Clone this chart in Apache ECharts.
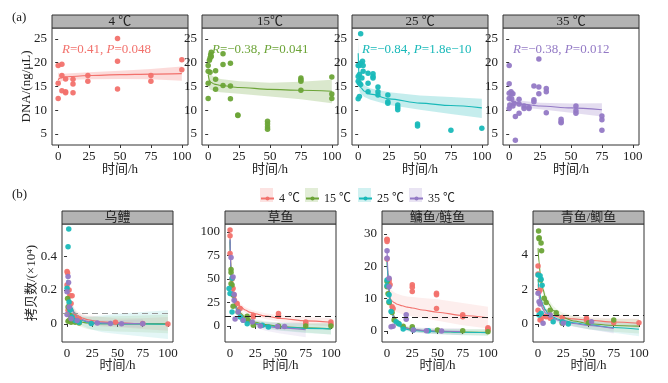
<!DOCTYPE html>
<html><head><meta charset="utf-8">
<script src="https://cdn.jsdelivr.net/npm/echarts@6/dist/echarts.min.js"></script>
<style>html,body{margin:0;padding:0;background:#fff}#c{width:668px;height:383px}</style>
</head><body><div id="c"></div>
<script>
// ---------- shared ----------
const temps = ['4 ℃', '15 ℃', '25 ℃', '35 ℃'];
const stripA = ['4 ℃', '15℃', '25 ℃', '35 ℃'];
const stripB = ['乌鳢', '草鱼', '鳙鱼/鲢鱼', '青鱼/鲫鱼'];
const colors = ['#F2716C', '#6CA437', '#19B9B9', '#9379C5'];
const xTicks = [0, 25, 50, 75, 100];
const aYTicks = [5, 10, 15, 20, 25];
const bYTicks = [[0, 0.2, 0.4], [0, 25, 50, 75, 100], [0, 10, 20, 30], [0, 2, 4]];
const aLabels = ['{i|R}=0.41, {i|P}=0.048', '{i|R}=−0.38, {i|P}=0.041', '{i|R}=−0.84, {i|P}=1.8e−10', '{i|R}=−0.38, {i|P}=0.012'];
const bThresh = [0.06, 10, 4.2, 0.53];

// ---------- panel (a): DNA ----------
const a4Pts = [[0,19.4],[3,19.7],[0,15.7],[0,12.5],[3,17.3],[3,14.1],[6,16.6],[6,13.9],[6,13.7],[12,16.5],[12,15.5],[12,13.7],[24,17.3],[24,16.1],[48,25.1],[48,20.3],[48,14.5],[75,17.3],[75,16.1],[100,20.6],[100,18.5]];
const a15Pts = [[0,19.4],[0,18.2],[0,15.7],[0,12.5],[1,20.5],[1.5,21],[2,21.7],[2.5,22.2],[2.5,21.3],[1.5,18],[6,18.3],[6,16.5],[6,14.4],[12,21.9],[12,19.6],[12,15.2],[18,19.9],[18,15.1],[18,12.4],[24,9.0],[24,8.9],[48,7.7],[48,7.1],[48,6.5],[48,6.0],[75,16.8],[75,16.4],[75,16.1],[75,14.2],[100,17.0],[100,13.4],[100,12.5]];
const a25Pts = [[2,26.1],[0,19.4],[1,19.4],[2,19.9],[3.5,20.3],[4,19.4],[4,18.2],[0,17.1],[0,16.1],[1,15.7],[2,15.4],[0,12.4],[1,12.9],[1,17.5],[3,16.8],[8,17.8],[8,15.7],[8,13.9],[12,17.7],[12,17.1],[12,16.8],[16,14.9],[16,13.9],[16,13.2],[24,13.2],[24,11.8],[24,11.5],[32,11.1],[32,10.6],[32,10.1],[48,7.1],[48,6.7],[75,5.8],[100,6.2]];
const a35Pts = [[0,19.4],[0,15.6],[0,13.6],[0,12.5],[0,10.4],[0.5,11.1],[1.5,13.9],[2,13.5],[3,13.5],[2,12.4],[3,10.9],[4,11.5],[5,8.7],[5,3.7],[8,11.3],[8,9.4],[8,12.3],[12,10.9],[12,10.4],[16,10.6],[16,10.4],[20,15.1],[20,12.2],[20,11.8],[24,20.8],[24,14.9],[24,13.5],[30,14.6],[30,13.9],[30,9.5],[42,8.1],[42,7.6],[42,7.4],[54,10.9],[54,9.9],[54,9.4],[75,8.8],[75,8.0],[75,5.8]];
const aFitX = [0, 1, 2, 5, 10, 25, 50, 75, 100];
const aFitX35 = [0, 1, 2, 5, 10, 25, 50, 75];
const a4Fit = [16.4,16.7,16.8,17.0,17.1,17.3,17.5,17.6,17.7];
const a4Lo  = [15.0,15.8,16.0,16.3,16.4,16.5,16.6,16.5,16.2];
const a4Hi  = [18.0,17.7,17.7,17.7,17.8,18.0,18.3,18.7,19.2];
const a15Fit = [17.5,16.3,15.9,15.5,15.2,14.8,14.4,14.2,14.0];
const a15Lo  = [15.5,14.5,14.3,14.0,13.8,13.5,12.9,12.3,11.5];
const a15Hi  = [19.5,18.0,17.5,17.0,16.6,16.1,15.8,16.0,16.4];
const a25Fit = [22.0,15.5,14.8,14.0,13.4,12.4,11.5,11.0,10.5];
const a25Lo  = [19.0,14.0,13.5,12.8,12.2,11.1,10.1,9.2,8.4];
const a25Hi  = [25.0,17.0,16.2,15.3,14.6,13.8,13.1,12.8,12.4];
const a35Fit = [13.0,12.2,11.9,11.6,11.3,10.9,10.5,10.1];
const a35Lo  = [11.5,11.3,11.1,10.9,10.6,10.2,9.5,8.7];
const a35Hi  = [14.5,13.1,12.7,12.3,12.0,11.6,11.4,11.5];

// ---------- panel (b): copies ----------
const bFitX = [0, 1, 2, 3, 5, 7, 10, 15, 20, 25, 35, 50, 75, 100];
const bFitX75 = [0, 1, 2, 3, 5, 7, 10, 15, 20, 25, 35, 50, 75];
// 乌鳢
const bW4Pts = [[0,0.31],[0.5,0.30],[0,0.23],[2,0.2],[5,0.166],[3,0.166],[1,0.08],[4,0.12],[6,0.05],[8,0.03],[12,0.03],[24,0.005],[48,0.01],[75,0.003],[100,0.0]];
const bW15Pts = [[0.5,0.15],[1,0.1],[1,0.015],[2,0.02],[3,0.05],[4,0.01],[6,0.02],[8,0.01],[12,0.005]];
const bW25Pts = [[1.7,0.56],[1,0.455],[0,0.21],[2,0.13],[3,0.08],[5,0.04],[8,0.02],[12,0.01],[24,0.002]];
const bW35Pts = [[1,0.28],[1.5,0.245],[0,0.19],[2,0.1],[0,0.055],[4,0.03],[10,0.02],[30,0.005],[43,0.002],[54,0.001],[75,0.001]];
const bW4Fit = [0.2,0.17,0.14,0.12,0.09,0.07,0.05,0.035,0.025,0.02,0.012,0.006,0.002,0];
const bW4Lo  = [0.14,0.13,0.11,0.09,0.065,0.045,0.025,0.01,0.0,-0.008,-0.015,-0.02,-0.03,-0.04];
const bW4Hi  = [0.26,0.21,0.17,0.15,0.115,0.095,0.075,0.06,0.05,0.048,0.04,0.032,0.034,0.04];
const bW15Fit = [0.12,0.1,0.08,0.065,0.045,0.032,0.02,0.01,0.005,0.003,0.001,0,0,0];
const bW15Lo  = [0.06,0.05,0.04,0.03,0.015,0.005,-0.01,-0.02,-0.03,-0.035,-0.04,-0.045,-0.05,-0.055];
const bW15Hi  = [0.18,0.15,0.12,0.1,0.075,0.06,0.05,0.04,0.04,0.04,0.042,0.045,0.05,0.055];
const bW25Fit = [0.26,0.21,0.17,0.14,0.095,0.065,0.04,0.02,0.01,0.005,0.001,0,0,-0.002];
const bW25Lo  = [0.2,0.17,0.14,0.11,0.07,0.04,0.015,-0.01,-0.025,-0.035,-0.05,-0.06,-0.075,-0.09];
const bW25Hi  = [0.32,0.25,0.2,0.17,0.12,0.09,0.065,0.05,0.045,0.045,0.05,0.06,0.07,0.08];
const bW35Fit = [0.23,0.19,0.155,0.125,0.085,0.06,0.04,0.025,0.015,0.01,0.006,0.003,0.001];
const bW35Lo  = [0.18,0.15,0.125,0.1,0.065,0.045,0.025,0.01,0.0,-0.005,-0.01,-0.015,-0.025];
const bW35Hi  = [0.28,0.23,0.185,0.15,0.105,0.075,0.055,0.04,0.03,0.025,0.022,0.021,0.027];
// 草鱼
const bC4Pts = [[0,102],[0,96],[0,77],[2,50],[3,40],[4,33],[7,24],[10,18.6],[23,11.4],[23,9.6],[48,13.2],[48,10.4],[75,4.3],[75,2.5],[100,4.3],[100,1.8]];
const bC15Pts = [[1,60],[1,57],[1,45],[2,43.6],[3,32.9],[3,21],[8,15],[17,10.4],[18,6],[23,0.7],[48,0],[75,0],[100,0]];
const bC25Pts = [[-1,40],[0,34.6],[2,50.7],[2,15],[10,9.6],[13,6],[17,2.5],[32,0.7],[38,-1]];
const bC35Pts = [[1,73],[3,52],[4,33.6],[4,27.5],[5,7.5],[8,15],[13,6],[22,4.3],[30,0],[47,-0.5],[54,-0.5]];
const bC4Fit = [95,62,48,40,31,26,21,17,14.5,13,10.5,8,5.5,4];
const bC4Lo  = [85,55,42,35,27,22.5,18,14,11.5,10,7.5,4.5,1.5,-0.5];
const bC4Hi  = [105,69,54,45,35,29.5,24,20,17.5,16,13.5,11.5,9.5,8.5];
const bC15Fit = [90,55,42,34,25,19,14,9,6,4,1.5,-0.5,-2,-3];
const bC15Lo  = [82,49,37,30,21.5,16,11,6,3,1,-2,-4.5,-7,-9];
const bC15Hi  = [98,61,47,38,28.5,22,17,12,9,7,5,3.5,3,3];
const bC25Fit = [92,52,38,30,21,16,11,6.5,4,2.5,0.5,-1,-2.5,-3];
const bC25Lo  = [84,46,33,26,18,13,8,3.5,1,-0.5,-3,-5,-7.5,-9];
const bC25Hi  = [100,58,43,34,24,19,14,9.5,7,5.5,4,3,2.5,3];
const bC35Fit = [92,55,40,32,22,17,12,7,4,2,-0.5,-2,-4];
const bC35Lo  = [84,49,35,28,19,14,9,4,1,-1.5,-5,-8,-12];
const bC35Hi  = [100,61,45,36,25,20,15,10,7,5.5,4,4,4];
// 鳙鱼/鲢鱼
const bY4Pts = [[0,28.2],[0,28.4],[0,27.7],[0,22.3],[2,16],[2,15.3],[3,14.3],[5,7.5],[6,7],[25,14.3],[25,13.5],[25,12.2],[49,11.7],[49,11.2],[49,7],[75,5],[75,4.4],[100,1],[100,0.6],[100,0.3]];
const bY15Pts = [[0,15.3],[0,13.7],[1,11.5],[2,8.8],[5,5.7],[7,3.4],[11,2.4],[16,1.5],[25,1.3],[25,0.6],[50,0.3],[75,0.1],[100,-0.2]];
const bY25Pts = [[0,15.8],[0,14],[2,11.2],[2,9.1],[4,6],[9,2.9],[12,2.2],[16,0.6],[26,0.3],[41,0.1]];
const bY35Pts = [[0,24.8],[0,22.5],[2,16.3],[2,13.7],[4,1.3],[6,1.5],[19,5],[19,3.6],[26,0.3],[39,0.1],[54,0]];
const bY4Fit = [12,11,10.5,10,9.3,8.8,8.3,7.8,7.4,7.1,6.5,5.8,4.8,4.1];
const bY4Lo  = [9,8.3,7.8,7.4,6.8,6.3,5.8,5.2,4.8,4.5,4,3.2,1.8,0.8];
const bY4Hi  = [15,14,13.5,13,12.5,12,11.5,11,10.7,10.5,10.2,9.8,8.7,7.5];
const bY15Fit = [22,17,13,10,6.5,4.5,3,1.6,0.9,0.5,0.1,-0.1,-0.3,-0.4];
const bY15Lo  = [20,15.5,11.8,9,5.7,3.8,2.3,1,0.3,-0.1,-0.6,-0.9,-1.2,-1.4];
const bY15Hi  = [24,18.5,14.2,11,7.3,5.2,3.7,2.2,1.5,1.1,0.8,0.7,0.6,0.6];
const bY25Fit = [22,16,12,9,5.5,3.5,2.2,1,0.5,0.2,0,-0.2,-0.4,-0.5];
const bY25Lo  = [20,14.5,10.8,8,4.7,2.8,1.5,0.4,-0.1,-0.4,-0.7,-1,-1.3,-1.5];
const bY25Hi  = [24,17.5,13.2,10,6.3,4.2,2.9,1.6,1.1,0.8,0.7,0.6,0.5,0.5];
const bY35Fit = [25,18,13.5,10,6,4,2.5,1.3,0.8,0.5,0.2,0,-0.2];
const bY35Lo  = [22.5,16,12,8.8,5,3.2,1.8,0.6,0.1,-0.3,-0.6,-0.9,-1.3];
const bY35Hi  = [27.5,20,15,11.2,7,4.8,3.2,2,1.5,1.3,1,0.9,0.9];
// 青鱼/鲫鱼
const bQ4Pts = [[0,3.36],[0,2.9],[1,1.87],[2,1.97],[0,0.8],[2,0.23],[3,0.27],[5,0.46],[8,0.43],[12,0.33],[24,0.38],[48,0.33],[48,0.23],[75,0.08],[100,0.08]];
const bQ15Pts = [[0.5,5.4],[1,5.0],[1,4.95],[3,4.7],[3.5,4.25],[2.5,2.55],[6,1.5],[8,1.25],[12,0.8],[18,0.65],[24,0.04],[50,0.08],[75,0.23]];
const bQ25Pts = [[0,2.84],[2,2.8],[3,2.6],[4,2.25],[1,0.52],[3,0.62],[15,0.14],[24,0.14],[30,0]];
const bQ35Pts = [[0,1.78],[1,1.3],[2,1.16],[5,0.04],[12,0.52],[25,0.04],[53,0.14]];
const bQ4Fit = [2.3,1.8,1.5,1.3,1.0,0.8,0.65,0.5,0.42,0.36,0.3,0.22,0.12,0.05];
const bQ4Lo  = [2.0,1.55,1.28,1.1,0.82,0.64,0.5,0.36,0.28,0.22,0.15,0.05,-0.1,-0.22];
const bQ4Hi  = [2.6,2.05,1.72,1.5,1.18,0.96,0.8,0.64,0.56,0.5,0.45,0.39,0.34,0.32];
const bQ15Fit = [4.4,3.6,3.0,2.6,2.0,1.6,1.2,0.8,0.55,0.38,0.18,0.02,-0.08,-0.12];
const bQ15Lo  = [4.0,3.3,2.7,2.3,1.75,1.35,0.95,0.55,0.3,0.12,-0.12,-0.3,-0.45,-0.55];
const bQ15Hi  = [4.8,3.9,3.3,2.9,2.25,1.85,1.45,1.05,0.8,0.64,0.48,0.34,0.3,0.3];
const bQ25Fit = [2.6,2.0,1.7,1.4,1.1,0.85,0.6,0.4,0.28,0.2,0.08,-0.05,-0.2,-0.3];
const bQ25Lo  = [2.3,1.75,1.47,1.2,0.92,0.68,0.44,0.24,0.12,0.03,-0.12,-0.3,-0.5,-0.7];
const bQ25Hi  = [2.9,2.25,1.93,1.6,1.28,1.02,0.76,0.56,0.44,0.37,0.28,0.2,0.1,0.1];
const bQ35Fit = [2.0,1.6,1.3,1.1,0.85,0.65,0.5,0.33,0.22,0.15,0.03,-0.08,-0.25];
const bQ35Lo  = [1.7,1.36,1.1,0.92,0.68,0.5,0.36,0.19,0.08,0,-0.15,-0.3,-0.55];
const bQ35Hi  = [2.3,1.84,1.5,1.28,1.02,0.8,0.64,0.47,0.36,0.3,0.21,0.14,0.05];

// ---------- layout ----------
const FONT = '"Liberation Serif", "Noto Sans CJK SC", serif';
const TXT = '#222';
const aLeft = [52, 202, 352, 503], aTop = 28, aW = 136, aH = 117;
const bLeft = [62, 225, 382, 533], bTop = 224, bW = 111, bH = 118;
const aYRange = [2.7, 27.3];
const bYRange = [[-0.107, 0.59], [-17, 108.5], [-3.4, 33.1], [-1.04, 5.8]];
const legendLeft = [260, 305, 358, 409];

const grids = [], xAxes = [], yAxes = [], series = [], graphics = [], titles = [], legends = [];

function addGrid(left, top, w, h, yMin, yMax, yTicks, opts) {
  grids.push({left, top, width: w, height: h, show: true, borderColor: '#333', borderWidth: 1, backgroundColor: '#fff'});
  const gi = grids.length - 1;
  xAxes.push({type: 'value', gridIndex: gi, min: -5, max: 105,
    axisLine: {show: false}, splitLine: {show: false},
    axisTick: {show: true, length: 3, lineStyle: {color: '#333'}, customValues: xTicks},
    axisLabel: {customValues: xTicks, margin: 5, fontSize: 13, color: TXT, fontFamily: FONT},
    name: '时间/h', nameLocation: 'middle', nameGap: opts.xGap, nameMoveOverlap: false,
    nameTextStyle: {fontSize: 13, color: TXT, fontFamily: FONT}});
  const ya = {type: 'value', gridIndex: gi, min: yMin, max: yMax,
    axisLine: {show: false}, splitLine: {show: false},
    axisTick: {show: true, length: 3, lineStyle: {color: '#333'}, customValues: yTicks},
    axisLabel: {customValues: yTicks, margin: 5, fontSize: 13, color: TXT, fontFamily: FONT}};
  if (opts.yName) Object.assign(ya, {name: opts.yName, nameLocation: 'middle', nameGap: opts.yGap, nameMoveOverlap: false,
    nameTextStyle: {fontSize: 13, color: TXT, fontFamily: FONT}});
  yAxes.push(ya);
  return gi;
}

function addStrip(left, top, w, h, text) {
  graphics.push({type: 'rect', shape: {x: left, y: top, width: w, height: h},
    style: {fill: '#b3b3b3', stroke: '#333', lineWidth: 1}, z: 10});
  graphics.push({type: 'text', x: left + w / 2, y: top + h / 2 + 0.5,
    style: {text, font: '13px ' + FONT, fill: TXT, textAlign: 'center', textVerticalAlign: 'middle'}, z: 11});
}

function addGroup(gi, k, pts, fx, fit, lo, hi, opts) {
  const col = colors[k];
  const bandData = fx.map((x, i) => [x, lo[i], hi[i]]);
  series.push({type: 'custom', xAxisIndex: gi, yAxisIndex: gi, data: bandData, clip: true, silent: true, z: 1,
    encode: {x: 0, y: [1, 2]},
    renderItem: function (params, api) {
      if (params.dataIndex !== 0) return null;
      const upper = bandData.map(d => api.coord([d[0], d[2]]));
      const lower = bandData.map(d => api.coord([d[0], d[1]])).reverse();
      return {type: 'polygon', shape: {points: upper.concat(lower)},
        style: {fill: col, opacity: opts.bandOp}};
    }});
  series.push({type: 'line', xAxisIndex: gi, yAxisIndex: gi, data: fx.map((x, i) => [x, fit[i]]),
    symbol: 'none', smooth: 0.3, smoothMonotone: 'x', lineStyle: {color: col, width: 1.1}, silent: true, z: 2});
  const sc = {type: 'scatter', xAxisIndex: gi, yAxisIndex: gi, data: pts, symbolSize: 5.5,
    itemStyle: {color: col, opacity: 0.95}, silent: true, z: 3};
  if (opts.thresh !== undefined) {
    sc.markLine = {symbol: 'none', silent: true, label: {show: false},
      lineStyle: {type: [6, 4], color: opts.threshCol, width: 1.2}, data: [{yAxis: opts.thresh}]};
  }
  series.push(sc);
}

// panel (a)
const aData = [
  [a4Pts, aFitX, a4Fit, a4Lo, a4Hi],
  [a15Pts, aFitX, a15Fit, a15Lo, a15Hi],
  [a25Pts, aFitX, a25Fit, a25Lo, a25Hi],
  [a35Pts, aFitX35, a35Fit, a35Lo, a35Hi]
];
for (let f = 0; f < 4; f++) {
  const gi = addGrid(aLeft[f], aTop, aW, aH, aYRange[0], aYRange[1], aYTicks,
    {xGap: 18, yName: f === 0 ? 'DNA/(ng/μL)' : null, yGap: 19});
  addStrip(aLeft[f], 15, aW, 13, stripA[f]);
  const d = aData[f];
  addGroup(gi, f, d[0], d[1], d[2], d[3], d[4], {bandOp: 0.25});
  titles.push({text: aLabels[f], left: aLeft[f] + 10, top: 43, padding: 0,
    textStyle: {fontSize: 13, fontWeight: 'normal', color: colors[f], fontFamily: FONT,
      rich: {i: {fontStyle: 'italic', fontSize: 13, color: colors[f], fontFamily: FONT}}}});
}

// panel (b)
const bData = [
  [[bW4Pts, bW4Fit, bW4Lo, bW4Hi], [bW15Pts, bW15Fit, bW15Lo, bW15Hi], [bW25Pts, bW25Fit, bW25Lo, bW25Hi], [bW35Pts, bW35Fit, bW35Lo, bW35Hi]],
  [[bC4Pts, bC4Fit, bC4Lo, bC4Hi], [bC15Pts, bC15Fit, bC15Lo, bC15Hi], [bC25Pts, bC25Fit, bC25Lo, bC25Hi], [bC35Pts, bC35Fit, bC35Lo, bC35Hi]],
  [[bY4Pts, bY4Fit, bY4Lo, bY4Hi], [bY15Pts, bY15Fit, bY15Lo, bY15Hi], [bY25Pts, bY25Fit, bY25Lo, bY25Hi], [bY35Pts, bY35Fit, bY35Lo, bY35Hi]],
  [[bQ4Pts, bQ4Fit, bQ4Lo, bQ4Hi], [bQ15Pts, bQ15Fit, bQ15Lo, bQ15Hi], [bQ25Pts, bQ25Fit, bQ25Lo, bQ25Hi], [bQ35Pts, bQ35Fit, bQ35Lo, bQ35Hi]]
];
for (let f = 0; f < 4; f++) {
  const gi = addGrid(bLeft[f], bTop, bW, bH, bYRange[f][0], bYRange[f][1], bYTicks[f],
    {xGap: 17, yName: f === 0 ? '拷贝数/(×10⁴)' : null, yGap: 24});
  addStrip(bLeft[f], 211, bW, 13, stripB[f]);
  for (let k = 0; k < 4; k++) {
    const d = bData[f][k];
    addGroup(gi, k, d[0], k === 3 ? bFitX75 : bFitX, d[1], d[2], d[3],
      {bandOp: 0.12, thresh: k === 0 ? bThresh[f] : undefined, threshCol: f === 0 ? '#999' : '#222'});
  }
}

// legend: dummy series + one shaded-rect legend and one line/dot legend per item
for (let k = 0; k < 4; k++) {
  series.push({type: 'line', name: temps[k], xAxisIndex: 4, yAxisIndex: 4, data: [],
    symbol: 'circle', symbolSize: 5, itemStyle: {color: colors[k]}, lineStyle: {color: colors[k], width: 1.2}});
  legends.push({data: [temps[k]], left: legendLeft[k], top: 188, itemWidth: 13, itemHeight: 14, padding: 0,
    selectedMode: false, icon: 'rect', itemStyle: {opacity: 0.2},
    textStyle: {fontSize: 12, color: 'rgba(0,0,0,0)', fontFamily: FONT}});
  legends.push({data: [temps[k]], left: legendLeft[k], top: 192.5, itemWidth: 13, itemHeight: 5, padding: 0,
    selectedMode: false, textStyle: {fontSize: 12, color: TXT, fontFamily: FONT}});
}

titles.push({text: '(a)', left: 12, top: 11, padding: 0, textStyle: {fontSize: 13, fontWeight: 'normal', color: TXT, fontFamily: FONT}});
titles.push({text: '(b)', left: 12, top: 188, padding: 0, textStyle: {fontSize: 13, fontWeight: 'normal', color: TXT, fontFamily: FONT}});

const option = {
  animation: false,
  backgroundColor: '#fff',
  title: titles,
  grid: grids, xAxis: xAxes, yAxis: yAxes, series,
  graphic: graphics,
  legend: legends
};
const chart = echarts.init(document.getElementById('c'), null, {renderer: 'canvas'});
chart.setOption(option);
</script></body></html>
